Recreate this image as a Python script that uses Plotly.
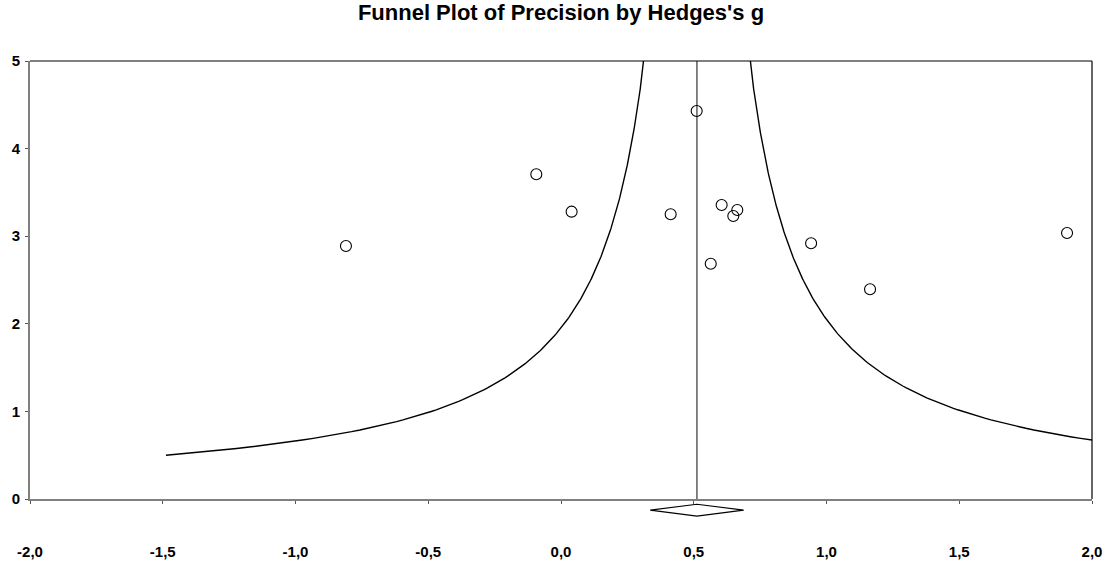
import numpy as np
import plotly.graph_objects as go

# Study effect sizes (Hedges's g) and their precision (1 / standard error)
hedges_g = [-0.810, -0.093, 0.040, 0.413, 0.511, 0.605, 0.649, 0.664, 0.564, 0.942, 1.164, 1.906]
precision = [2.888, 3.707, 3.280, 3.250, 4.429, 3.356, 3.231, 3.299, 2.686, 2.920, 2.394, 3.037]

# Pooled estimate and its confidence interval
pooled_g = 0.512
pooled_lo = 0.336
pooled_hi = 0.688

# Funnel limits: pooled estimate +/- z / precision
z_limit = 1.0
prec_grid = np.linspace(0.5, 12, 600)
left_limit = pooled_g - z_limit / prec_grid
right_limit = pooled_g + z_limit / prec_grid

x_ticks = [-2.0, -1.5, -1.0, -0.5, 0.0, 0.5, 1.0, 1.5, 2.0]
x_tick_labels = ["-2,0", "-1,5", "-1,0", "-0,5", "0,0", "0,5", "1,0", "1,5", "2,0"]
y_ticks = [0, 1, 2, 3, 4, 5]
y_tick_labels = ["0", "1", "2", "3", "4", "5"]

FONT = "Liberation Sans, Arial, sans-serif"

fig = go.Figure()

fig.add_trace(go.Scatter(x=left_limit, y=prec_grid, mode="lines",
                         line=dict(color="black", width=1.4), hoverinfo="skip"))
fig.add_trace(go.Scatter(x=right_limit, y=prec_grid, mode="lines",
                         line=dict(color="black", width=1.4), hoverinfo="skip"))
fig.add_trace(go.Scatter(x=[pooled_g, pooled_g], y=[0, 5], mode="lines",
                         line=dict(color="#333333", width=1.2), hoverinfo="skip"))
fig.add_trace(go.Scatter(x=hedges_g, y=precision, mode="markers",
                         marker=dict(symbol="circle-open", size=11,
                                     color="black", line=dict(width=1.1))))

# Summary diamond below the axis
fig.add_shape(type="path", xref="x", yref="paper",
              path=(f"M {pooled_lo},-0.0255 L {pooled_g},-0.012 "
                    f"L {pooled_hi},-0.0255 L {pooled_g},-0.039 Z"),
              line=dict(color="black", width=1.1), fillcolor="white")

# Top and right frame edges
fig.add_shape(type="line", xref="paper", yref="paper", x0=0, x1=1, y0=1, y1=1,
              line=dict(color="black", width=1.2))
fig.add_shape(type="line", xref="paper", yref="paper", x0=1, x1=1, y0=0, y1=1,
              line=dict(color="black", width=1.2))

fig.update_layout(
    width=1112, height=563,
    margin=dict(l=30, r=20, t=61, b=64),
    paper_bgcolor="white", plot_bgcolor="white",
    showlegend=False,
    title=dict(text="<b>Funnel Plot of Precision by Hedges's g</b>",
               x=0.5, xref="paper", xanchor="center",
               y=0.979, yanchor="middle",
               font=dict(family=FONT, size=22, color="black")),
    font=dict(family=FONT, color="black"),
)

fig.update_xaxes(range=[-2, 2], tickvals=x_ticks, ticktext=x_tick_labels,
                 automargin=False,
                 showgrid=False, zeroline=False,
                 showline=True, linecolor="#808080", linewidth=2,
                 ticks="outside", ticklen=3, tickcolor="#555555",
                 ticklabelstandoff=35,
                 tickfont=dict(family=FONT, size=15, color="black", weight="bold"))
fig.update_yaxes(range=[0, 5], tickvals=y_ticks, ticktext=y_tick_labels,
                 automargin=False,
                 showgrid=False, zeroline=False,
                 showline=True, linecolor="#808080", linewidth=2,
                 ticks="outside", ticklen=3, tickcolor="#555555",
                 ticklabelstandoff=2,
                 tickfont=dict(family=FONT, size=15, color="black", weight="bold"))

fig.write_html("out.html")
